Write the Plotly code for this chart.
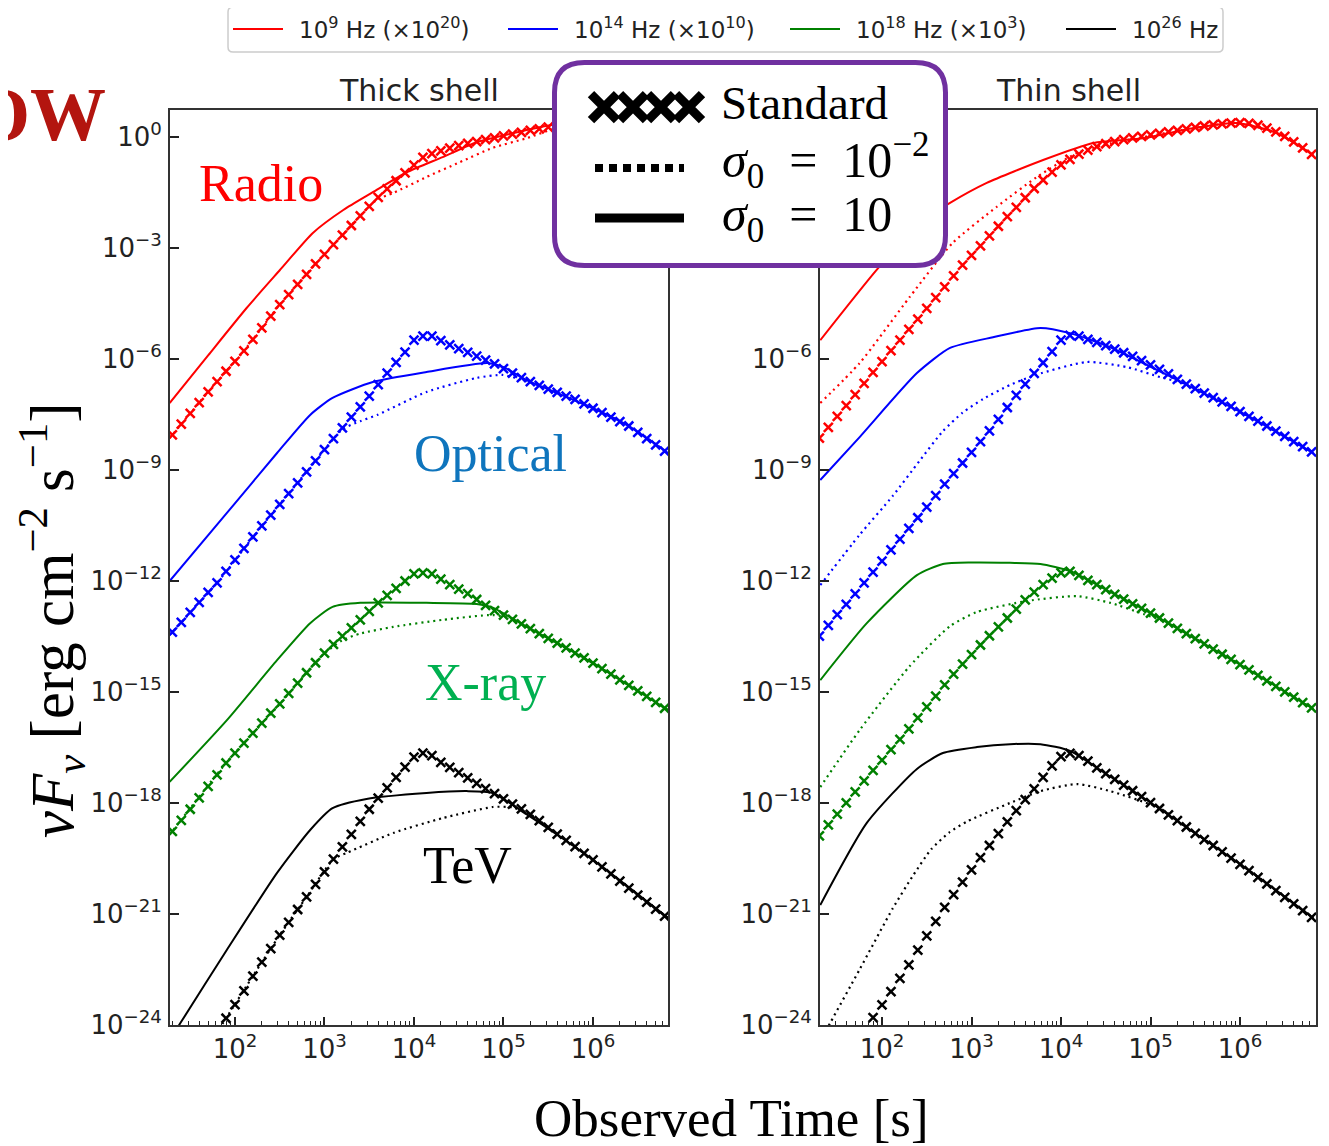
import numpy as np
import plotly.graph_objects as go

W, H = 1329, 1146          # reference pixels
OFF = 8                    # default body margin of the html page
PAGE_H = 1161              # effective page height that gets photographed into H
S = H / PAGE_H
FW, FH = W - 2 * OFF, PAGE_H - 2 * OFF

# ---------------- data (log10 values) ----------------
LOG_T_GRID = [1.3, 1.4, 1.5, 1.6, 1.7, 1.8, 1.9, 2.0, 2.1, 2.2,
              2.3, 2.4, 2.5, 2.6, 2.7, 2.8, 2.9, 3.0, 3.1, 3.2,
              3.3, 3.4, 3.5, 3.6, 3.7, 3.8, 3.9, 4.0, 4.1, 4.2,
              4.3, 4.4, 4.5, 4.6, 4.7, 4.8, 4.9, 5.0, 5.1, 5.2,
              5.3, 5.4, 5.5, 5.6, 5.7, 5.8, 5.9, 6.0, 6.1, 6.2,
              6.3, 6.4, 6.5, 6.6, 6.7, 6.8]

# ---- Thick shell : Standard (crosses) ----
thick_radio_std = [-8.05, -7.76, -7.47, -7.18, -6.89, -6.61, -6.33, -6.06, -5.78, -5.47,
                   -5.16, -4.84, -4.53, -4.26, -3.98, -3.71, -3.43, -3.17, -2.91, -2.65,
                   -2.39, -2.13, -1.87, -1.63, -1.40, -1.18, -0.97, -0.76, -0.55, -0.45,
                   -0.37, -0.30, -0.23, -0.17, -0.12, -0.07, -0.02, 0.03, 0.08, 0.13,
                   0.18, 0.22, 0.27, 0.31, 0.35, 0.38, 0.41, 0.42, 0.41, 0.37,
                   0.30, 0.20, 0.08, -0.06, -0.22, -0.40]
thick_optical_std = [-13.38, -13.12, -12.85, -12.58, -12.31, -12.05, -11.74, -11.43, -11.12, -10.81,
                     -10.51, -10.22, -9.93, -9.64, -9.35, -9.05, -8.75, -8.45, -8.15, -7.86,
                     -7.57, -7.29, -7.00, -6.69, -6.38, -6.09, -5.81, -5.49, -5.38, -5.38,
                     -5.50, -5.62, -5.72, -5.82, -5.92, -6.03, -6.13, -6.26, -6.38, -6.50,
                     -6.61, -6.71, -6.81, -6.90, -7.00, -7.09, -7.21, -7.33, -7.45, -7.57,
                     -7.69, -7.81, -7.98, -8.15, -8.32, -8.49]
thick_xray_std = [-18.77, -18.47, -18.17, -17.86, -17.55, -17.24, -16.92, -16.65, -16.38, -16.11,
                  -15.84, -15.57, -15.32, -15.04, -14.76, -14.48, -14.21, -13.95, -13.71, -13.49,
                  -13.27, -13.05, -12.82, -12.59, -12.39, -12.20, -12.00, -11.81, -11.78, -11.81,
                  -11.95, -12.10, -12.22, -12.34, -12.50, -12.66, -12.80, -12.92, -13.04, -13.16,
                  -13.29, -13.42, -13.55, -13.68, -13.81, -13.95, -14.08, -14.22, -14.37, -14.52,
                  -14.67, -14.82, -14.97, -15.12, -15.28, -15.44]
thick_tev_std = [-26.00, -25.64, -25.28, -24.92, -24.56, -24.20, -23.82, -23.45, -23.08, -22.68,
                 -22.30, -21.94, -21.57, -21.23, -20.88, -20.54, -20.20, -19.86, -19.52, -19.19,
                 -18.85, -18.50, -18.17, -17.87, -17.59, -17.31, -17.03, -16.76, -16.65, -16.72,
                 -16.90, -17.04, -17.18, -17.32, -17.47, -17.61, -17.75, -17.89, -18.03, -18.16,
                 -18.31, -18.48, -18.66, -18.84, -19.01, -19.18, -19.36, -19.54, -19.73, -19.92,
                 -20.11, -20.30, -20.49, -20.68, -20.87, -21.06]

# ---- Thin shell : Standard (crosses) ----
thin_radio_std = [-8.14, -7.85, -7.55, -7.26, -6.96, -6.66, -6.36, -6.07, -5.77, -5.49,
                  -5.20, -4.92, -4.63, -4.34, -4.05, -3.75, -3.46, -3.20, -2.94, -2.67,
                  -2.41, -2.15, -1.90, -1.64, -1.39, -1.16, -0.95, -0.75, -0.60, -0.46,
                  -0.35, -0.26, -0.18, -0.12, -0.07, -0.02, 0.02, 0.06, 0.10, 0.14,
                  0.18, 0.22, 0.26, 0.30, 0.33, 0.36, 0.38, 0.39, 0.37, 0.32,
                  0.24, 0.14, 0.02, -0.13, -0.29, -0.47]
thin_optical_std = [-13.49, -13.20, -12.91, -12.63, -12.35, -12.05, -11.76, -11.46, -11.16, -10.87,
                    -10.58, -10.29, -10.00, -9.69, -9.38, -9.10, -8.81, -8.52, -8.23, -7.94,
                    -7.63, -7.31, -6.98, -6.68, -6.39, -6.10, -5.80, -5.49, -5.36, -5.38,
                    -5.47, -5.55, -5.64, -5.73, -5.83, -5.93, -6.04, -6.16, -6.28, -6.40,
                    -6.55, -6.68, -6.80, -6.92, -7.04, -7.16, -7.28, -7.42, -7.55, -7.68,
                    -7.81, -7.95, -8.09, -8.23, -8.37, -8.51]
thin_xray_std = [-18.89, -18.59, -18.30, -18.00, -17.70, -17.40, -17.12, -16.84, -16.56, -16.28,
                 -16.00, -15.70, -15.40, -15.11, -14.81, -14.52, -14.25, -13.99, -13.73, -13.48,
                 -13.24, -13.00, -12.76, -12.51, -12.30, -12.10, -11.92, -11.78, -11.74, -11.85,
                 -11.98, -12.10, -12.23, -12.36, -12.49, -12.62, -12.74, -12.87, -13.00, -13.14,
                 -13.28, -13.42, -13.56, -13.70, -13.84, -13.98, -14.12, -14.26, -14.40, -14.55,
                 -14.70, -14.85, -15.00, -15.14, -15.29, -15.43]
thin_tev_std = [-25.90, -25.55, -25.20, -24.85, -24.50, -24.15, -23.80, -23.46, -23.10, -22.74,
                -22.38, -21.98, -21.59, -21.20, -20.82, -20.48, -20.14, -19.81, -19.48, -19.15,
                -18.83, -18.51, -18.21, -17.91, -17.62, -17.31, -17.00, -16.75, -16.66, -16.72,
                -16.87, -17.05, -17.21, -17.36, -17.52, -17.67, -17.83, -17.99, -18.15, -18.32,
                -18.48, -18.65, -18.82, -18.99, -19.15, -19.32, -19.49, -19.66, -19.83, -20.01,
                -20.19, -20.37, -20.55, -20.73, -20.91, -21.09]

# ---- Thick shell : sigma0 = 1e-2 (dotted) and sigma0 = 10 (solid) ----
thick_radio_lo_t = [1.27, 1.7, 2.1, 2.5, 2.9, 3.2, 3.58, 3.77, 4.14, 4.51, 4.88, 5.26, 5.6, 6.0, 6.4, 6.84]
thick_radio_lo = [-8.14, -6.89, -5.78, -4.53, -3.43, -2.65, -1.70, -1.51, -1.08, -0.68, -0.29, -0.03, 0.25, 0.42, 0.20, -0.42]
thick_radio_hi_t = [1.27, 1.7, 2.13, 2.5, 2.87, 3.21, 3.54, 3.92, 4.32, 4.70, 5.1, 5.52, 6.0, 6.4, 6.84]
thick_radio_hi = [-7.19, -5.90, -4.62, -3.60, -2.59, -1.97, -1.49, -0.95, -0.54, -0.14, 0.10, 0.32, 0.45, 0.22, -0.42]

thick_optical_lo_t = [1.27, 1.8, 2.28, 2.8, 3.2, 3.4, 3.59, 4.14, 4.70, 4.99, 5.26, 5.6, 6.0, 6.4, 6.84]
thick_optical_lo = [-13.46, -12.05, -10.57, -9.05, -7.90, -7.68, -7.51, -6.89, -6.51, -6.43, -6.60, -6.90, -7.33, -7.81, -8.54]
thick_optical_hi_t = [1.27, 1.91, 2.47, 2.84, 3.09, 3.54, 4.14, 4.82, 5.0, 5.26, 5.63, 6.0, 6.4, 6.84]
thick_optical_hi = [-12.00, -10.16, -8.54, -7.51, -7.05, -6.62, -6.35, -6.11, -6.22, -6.57, -6.95, -7.33, -7.81, -8.54]

thick_xray_lo_t = [1.27, 1.91, 2.47, 2.98, 3.2, 3.4, 3.77, 4.32, 4.88, 5.1, 5.3, 5.6, 6.0, 6.84]
thick_xray_lo = [-18.86, -16.89, -15.41, -14.00, -13.60, -13.42, -13.24, -13.05, -12.92, -13.02, -13.29, -13.68, -14.22, -15.49]
thick_xray_hi_t = [1.27, 1.91, 2.47, 2.84, 3.09, 3.40, 4.14, 4.70, 4.88, 5.26, 5.6, 6.0, 6.84]
thick_xray_hi = [-17.43, -15.76, -14.14, -13.14, -12.70, -12.59, -12.59, -12.62, -12.72, -13.24, -13.68, -14.22, -15.49]

thick_tev_lo_t = [1.3, 1.6, 1.9, 2.2, 2.5, 2.8, 3.1, 3.25, 3.77, 4.32, 4.88, 5.1, 5.3, 5.6, 6.0, 6.84]
thick_tev_lo = [-26.00, -24.92, -23.82, -22.68, -21.57, -20.54, -19.52, -19.35, -18.81, -18.41, -18.11, -18.12, -18.31, -18.84, -19.54, -21.11]
thick_tev_hi_t = [1.27, 1.39, 1.91, 2.47, 2.84, 3.09, 3.47, 4.14, 4.59, 4.88, 5.26, 5.6, 6.0, 6.84]
thick_tev_hi = [-24.41, -23.95, -21.97, -19.89, -18.73, -18.14, -17.89, -17.73, -17.68, -17.73, -18.31, -18.86, -19.54, -21.11]

# ---- Thin shell : sigma0 = 1e-2 (dotted) and sigma0 = 10 (solid) ----
thin_radio_lo_t = [1.31, 1.75, 2.31, 2.79, 3.28, 3.73, 4.18, 4.55, 4.92, 5.47, 5.97, 6.41, 6.82]
thin_radio_lo = [-7.19, -6.11, -4.32, -2.86, -1.89, -1.08, -0.43, -0.17, 0.00, 0.24, 0.38, 0.11, -0.49]
thin_radio_hi_t = [1.31, 1.94, 2.42, 2.76, 3.17, 3.80, 4.36, 4.92, 5.47, 5.97, 6.41, 6.82]
thin_radio_hi = [-5.49, -3.59, -2.32, -1.78, -1.24, -0.62, -0.16, -0.03, 0.24, 0.38, 0.11, -0.49]

thin_optical_lo_t = [1.31, 1.75, 2.12, 2.42, 2.68, 2.9, 3.13, 3.43, 3.73, 4.29, 4.74, 5.11, 5.4, 6.03, 6.82]
thin_optical_lo = [-12.11, -10.75, -9.70, -8.75, -7.95, -7.45, -7.08, -6.70, -6.42, -6.08, -6.22, -6.49, -6.68, -7.46, -8.54]
thin_optical_hi_t = [1.31, 1.75, 2.39, 2.76, 3.24, 3.77, 4.10, 4.55, 5.30, 6.03, 6.82]
thin_optical_hi = [-9.27, -8.11, -6.38, -5.70, -5.41, -5.16, -5.30, -5.68, -6.57, -7.46, -8.54]

thin_xray_lo_t = [1.31, 1.75, 2.31, 2.76, 3.06, 3.62, 4.18, 4.55, 4.92, 5.2, 5.6, 6.03, 6.82]
thin_xray_lo = [-17.57, -16.03, -14.30, -13.22, -12.84, -12.54, -12.41, -12.59, -12.89, -13.14, -13.70, -14.30, -15.46]
thin_xray_hi_t = [1.31, 1.83, 2.39, 2.68, 3.0, 3.43, 3.77, 4.10, 4.5, 4.92, 5.5, 6.03, 6.82]
thin_xray_hi = [-14.68, -13.14, -11.84, -11.54, -11.50, -11.51, -11.54, -11.73, -12.23, -12.76, -13.56, -14.30, -15.46]

thin_tev_lo_t = [1.31, 1.42, 1.75, 2.12, 2.35, 2.55, 2.75, 2.95, 3.43, 3.77, 4.18, 4.55, 5.11, 5.4, 6.03, 6.82]
thin_tev_lo = [-24.45, -23.95, -22.50, -20.85, -19.95, -19.25, -18.80, -18.50, -18.00, -17.68, -17.49, -17.68, -18.15, -18.65, -19.70, -21.11]
thin_tev_hi_t = [1.31, 1.83, 2.39, 2.68, 3.06, 3.43, 3.77, 4.10, 4.5, 4.92, 5.5, 6.03, 6.82]
thin_tev_hi = [-20.76, -18.54, -17.08, -16.65, -16.49, -16.41, -16.41, -16.59, -17.21, -17.86, -18.82, -19.70, -21.11]

BAND_COLORS = ["#ff0000", "#0000ff", "#008000", "#000000"]
LEGEND_LABELS = ["10<sup>9</sup> Hz (×10<sup>20</sup>)", "10<sup>14</sup> Hz (×10<sup>10</sup>)",
                 "10<sup>18</sup> Hz (×10<sup>3</sup>)", "10<sup>26</sup> Hz"]
X_TICK_EXP = [2, 3, 4, 5, 6]
Y_TICK_EXP = [0, -3, -6, -9, -12, -15, -18, -21, -24]

# ---------------- helpers: reference pixel -> paper coords ----------------
def p10(a):
    return np.power(10.0, np.asarray(a, dtype=float))

def PX(x):
    return (x - OFF) / FW

def PY(y):
    return 1 - (y / S - OFF) / FH

def P(x, y):
    return f"{PX(x):.5f} {PY(y):.5f}"

def rounded_rect(x0, y0, x1, y1, r):
    return (f"M {P(x0 + r, y0)} L {P(x1 - r, y0)} Q {P(x1, y0)} {P(x1, y0 + r)} "
            f"L {P(x1, y1 - r)} Q {P(x1, y1)} {P(x1 - r, y1)} "
            f"L {P(x0 + r, y1)} Q {P(x0, y1)} {P(x0, y1 - r)} "
            f"L {P(x0, y0 + r)} Q {P(x0, y0)} {P(x0 + r, y0)} Z")

fig = go.Figure()

panels = [
    ("x", "y", [thick_radio_std, thick_optical_std, thick_xray_std, thick_tev_std],
     [(thick_radio_lo_t, thick_radio_lo), (thick_optical_lo_t, thick_optical_lo),
      (thick_xray_lo_t, thick_xray_lo), (thick_tev_lo_t, thick_tev_lo)],
     [(thick_radio_hi_t, thick_radio_hi), (thick_optical_hi_t, thick_optical_hi),
      (thick_xray_hi_t, thick_xray_hi), (thick_tev_hi_t, thick_tev_hi)]),
    ("x2", "y2", [thin_radio_std, thin_optical_std, thin_xray_std, thin_tev_std],
     [(thin_radio_lo_t, thin_radio_lo), (thin_optical_lo_t, thin_optical_lo),
      (thin_xray_lo_t, thin_xray_lo), (thin_tev_lo_t, thin_tev_lo)],
     [(thin_radio_hi_t, thin_radio_hi), (thin_optical_hi_t, thin_optical_hi),
      (thin_xray_hi_t, thin_xray_hi), (thin_tev_hi_t, thin_tev_hi)]),
]

for xa, ya, stds, los, his in panels:
    for i, c in enumerate(BAND_COLORS):
        t_lo, f_lo = los[i]
        fig.add_trace(go.Scatter(x=p10(t_lo), y=p10(f_lo), mode="lines", xaxis=xa, yaxis=ya,
                                 line=dict(color=c, width=2.2, dash="2px,4px", shape="spline", smoothing=0.6),
                                 showlegend=False, hoverinfo="skip"))
        t_hi, f_hi = his[i]
        fig.add_trace(go.Scatter(x=p10(t_hi), y=p10(f_hi), mode="lines", xaxis=xa, yaxis=ya,
                                 line=dict(color=c, width=2, shape="spline", smoothing=0.6),
                                 showlegend=False, hoverinfo="skip"))
        fig.add_trace(go.Scatter(x=p10(LOG_T_GRID), y=p10(stds[i]), mode="markers", xaxis=xa, yaxis=ya,
                                 marker=dict(symbol="x-thin", size=9, color=c, line=dict(width=2.5, color=c)),
                                 showlegend=False, hoverinfo="skip"))

xminor = [m * 10 ** e for e in range(1, 7) for m in range(2, 10)]
tickfont = dict(family="DejaVu Sans", size=26, color="#222222")

def xaxis_cfg(d0, d1, r0, r1, anchor):
    return dict(domain=[PX(d0), PX(d1)], type="log", range=[r0, r1], anchor=anchor,
                tickmode="array", tickvals=[10 ** e for e in X_TICK_EXP],
                ticktext=[f"10<sup>{e}</sup>" for e in X_TICK_EXP],
                ticks="inside", ticklen=8, tickwidth=1.5, tickcolor="#222222",
                minor=dict(tickmode="array", tickvals=xminor, ticks="inside", ticklen=4,
                           tickwidth=1.2, tickcolor="#222222", showgrid=False),
                showline=True, linecolor="#333333", linewidth=1.8, mirror=True,
                showgrid=False, zeroline=False, tickfont=tickfont)

def yaxis_cfg(anchor):
    return dict(domain=[PY(1025), PY(110)], type="log", range=[-24, 0.73], anchor=anchor,
                tickmode="array", tickvals=[10.0 ** e for e in Y_TICK_EXP],
                ticktext=[f"10<sup>{'−' if e < 0 else ''}{abs(e)}</sup>" for e in Y_TICK_EXP],
                ticks="inside", ticklen=9, tickwidth=1.6, tickcolor="#222222",
                showline=True, linecolor="#333333", linewidth=1.8, mirror=True,
                showgrid=False, zeroline=False, tickfont=tickfont, ticklabelstandoff=1)

fig.update_layout(
    width=FW, height=FH, margin=dict(l=0, r=0, t=0, b=0),
    paper_bgcolor="white", plot_bgcolor="white", showlegend=False,
    xaxis=xaxis_cfg(170, 668, 1.274, 6.838, "y"),
    yaxis=yaxis_cfg("x"),
    xaxis2=xaxis_cfg(820, 1316, 1.307, 6.849, "y2"),
    yaxis2=yaxis_cfg("x2"),
)

# ---------------- shapes: frequency legend + inset legend box ----------------
shapes = [dict(type="path", xref="paper", yref="paper", layer="above",
               path=rounded_rect(228, 7, 1223, 52, 5),
               line=dict(color="#cccccc", width=1.5), fillcolor="white")]
LEG_LINE_X = [233, 508, 790, 1066]
for c, lx in zip(BAND_COLORS, LEG_LINE_X):
    shapes.append(dict(type="line", xref="paper", yref="paper", layer="above",
                       x0=PX(lx), x1=PX(lx + 50), y0=PY(29), y1=PY(29),
                       line=dict(color=c, width=2)))

shapes.append(dict(type="path", xref="paper", yref="paper", path=rounded_rect(554.5, 62.5, 945.5, 265.5, 30),
                   line=dict(color="#7030a0", width=5), fillcolor="white", layer="above"))
for cx in [604, 633, 661, 689]:
    h = 13
    shapes.append(dict(type="path", xref="paper", yref="paper", layer="above",
                       path=f"M {P(cx - h, 107 - h)} L {P(cx + h, 107 + h)} M {P(cx - h, 107 + h)} L {P(cx + h, 107 - h)}",
                       line=dict(color="black", width=9)))
shapes.append(dict(type="line", xref="paper", yref="paper", layer="above",
                   x0=PX(595), x1=PX(684), y0=PY(168), y1=PY(168),
                   line=dict(color="black", width=8, dash="8px,6px")))
shapes.append(dict(type="line", xref="paper", yref="paper", layer="above",
                   x0=PX(595), x1=PX(684), y0=PY(218), y1=PY(218),
                   line=dict(color="black", width=9)))
fig.update_layout(shapes=shapes)

serif = "Liberation Serif"
ann = []

def add_text(text, x, y, size, color="black", family=serif, xanchor="center", angle=0):
    ann.append(dict(text=text, x=PX(x), y=PY(y), xref="paper", yref="paper", showarrow=False,
                    xanchor=xanchor, yanchor="middle", textangle=angle,
                    font=dict(family=family, size=size, color=color)))

for lx, lab in zip(LEG_LINE_X, LEGEND_LABELS):
    add_text(lab, lx + 64, 28, 23, color="#222222", family="DejaVu Sans", xanchor="left")

add_text("Standard", 719, 103, 47, xanchor="left")
add_text("<i>σ</i><sub>0</sub>\u2002=\u200210<sup>−2</sup>", 720, 160, 50, xanchor="left")
add_text("<i>σ</i><sub>0</sub>\u2002=\u200210", 720, 218, 50, xanchor="left")

add_text("Thick shell", 419, 90, 30, color="#222222", family="DejaVu Sans")
add_text("Thin shell", 1068, 90, 30, color="#222222", family="DejaVu Sans")

add_text("Radio", 261, 183, 52, color="#ff0000")
add_text("Optical", 490, 453, 52, color="#0f75bd")
add_text("X-ray", 485, 683, 52, color="#00b050")
add_text("TeV", 468, 866, 52, color="black")

add_text("<b>OW</b>", 108, 114, 76, color="#b3150f", xanchor="right")

add_text("<i>νF</i><sub><i>ν</i></sub> [erg cm<sup>−2</sup> s<sup>−1</sup>]", 52, 620, 61, angle=-90)
add_text("Observed Time [s]", 731, 1118, 53)

fig.update_layout(annotations=ann)

fig.write_html("out.html")
